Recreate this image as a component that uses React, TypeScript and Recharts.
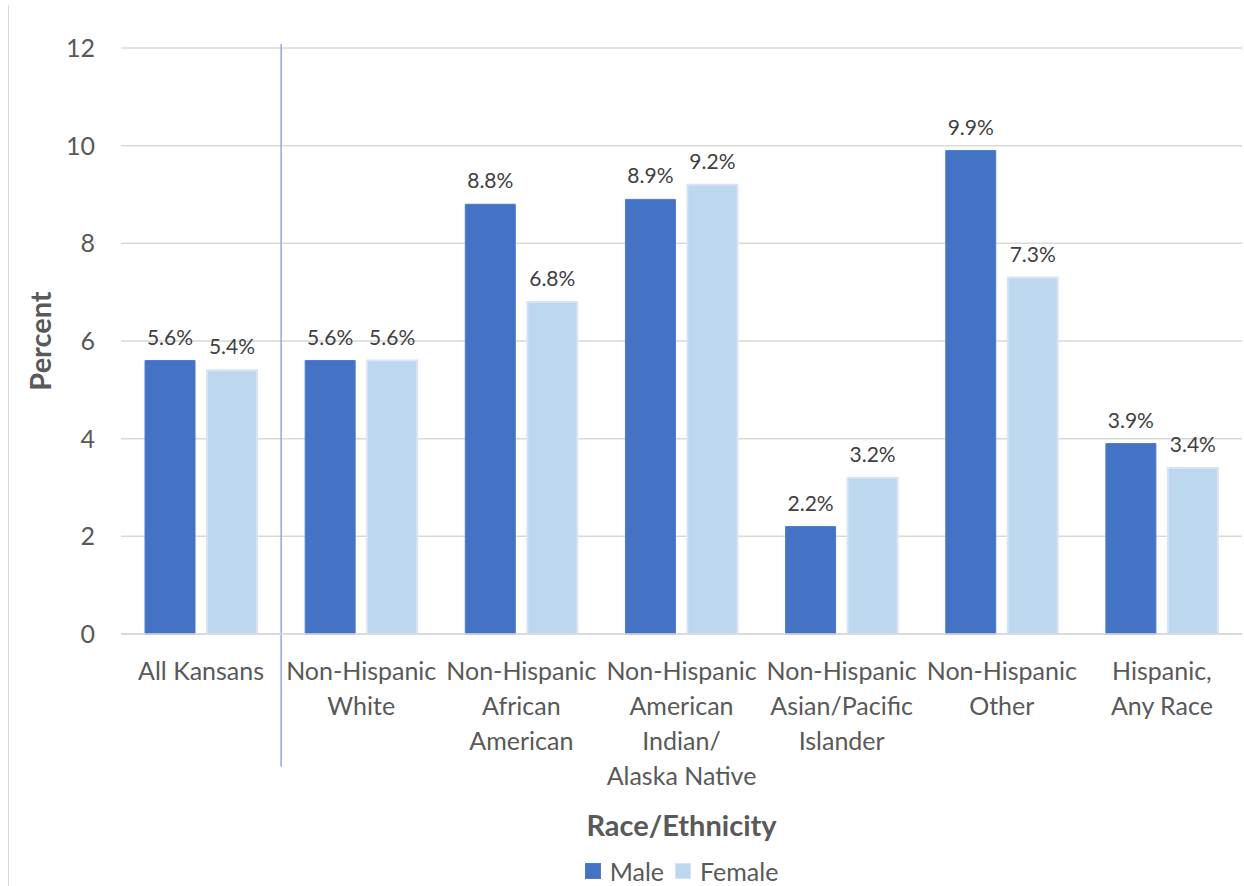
import React from 'react';
import { BarChart, Bar, XAxis, YAxis, CartesianGrid, LabelList, Legend, ReferenceLine } from 'recharts';

const categories = [
  'All Kansans',
  'Non-Hispanic White',
  'Non-Hispanic African American',
  'Non-Hispanic American Indian/ Alaska Native',
  'Non-Hispanic Asian/Pacific Islander',
  'Non-Hispanic Other',
  'Hispanic, Any Race',
];
const categoryLines = [
  ['All Kansans'],
  ['Non-Hispanic', 'White'],
  ['Non-Hispanic', 'African', 'American'],
  ['Non-Hispanic', 'American', 'Indian/', 'Alaska Native'],
  ['Non-Hispanic', 'Asian/Pacific', 'Islander'],
  ['Non-Hispanic', 'Other'],
  ['Hispanic,', 'Any Race'],
];
const maleValues = [5.6, 5.6, 8.8, 8.9, 2.2, 9.9, 3.9];
const femaleValues = [5.4, 5.6, 6.8, 9.2, 3.2, 7.3, 3.4];
const yTicks = [0, 2, 4, 6, 8, 10, 12];
const seriesNames = ['Male', 'Female'];
const seriesColors = ['#4472C4', '#BDD7EE'];
const seriesStrokes = ['#4f7bca', '#dae3f3'];
const separatorSpan = [-2.72, 12.08];

const FONT = 'Lato, "Open Sans", sans-serif';

const data = categories.map((c, i) => ({ category: c, male: maleValues[i], female: femaleValues[i] }));

const XTick = (props: any) => {
  const { x, y, payload } = props;
  const idx = categories.indexOf(payload.value);
  const lines = categoryLines[idx] || [payload.value];
  return (
    <g>
      {lines.map((l, i) => (
        <text key={i} x={x} y={y + 38 + i * 35} textAnchor="middle" fill="#595959" fontSize={25} fontFamily={FONT}>
          {l}
        </text>
      ))}
    </g>
  );
};

const YTitle = (p: any) => {
  const vb = p.viewBox || { x: 0, y: 48, width: 121, height: 586 };
  const cx = 39;
  const cy = vb.y + vb.height / 2;
  return (
    <text x={cx} y={cy} transform={`rotate(-90 ${cx} ${cy})`} textAnchor="middle" dominantBaseline="central"
      fill="#595959" fontSize={29} fontWeight={700} fontFamily={FONT}>
      Percent
    </text>
  );
};

const LegendContent = () => (
  <div style={{ display: 'flex', justifyContent: 'center', alignItems: 'center', height: 30, fontFamily: FONT, fontSize: 25, color: '#595959' }}>
    {seriesNames.map((n, i) => (
      <div key={n} style={{ display: 'flex', alignItems: 'center', marginRight: i === 0 ? 11 : 0 }}>
        <div style={{ width: 16, height: 16, background: seriesColors[i], boxSizing: 'border-box', border: `1px solid ${seriesStrokes[i]}`, marginRight: 9 }} />
        <span>{n}</span>
      </div>
    ))}
  </div>
);

export default function App() {
  return (
    <div style={{ position: 'absolute', left: 0, top: 0, width: 1244, height: 886, background: '#fff' }}>
      <div style={{ position: 'absolute', left: 8, top: 5, height: 881, borderLeft: '1px solid #d9d9d9' }} />
      <BarChart
        width={1244}
        height={886}
        data={data}
        margin={{ top: 48, right: 2, left: 0, bottom: 0 }}
        barCategoryGap="15%"
        barGap={12}
      >
        <CartesianGrid vertical={false} stroke="#d9d9d9" strokeWidth={1.5} />
        <XAxis
          dataKey="category"
          height={222}
          interval={0}
          tickLine={false}
          axisLine={{ stroke: '#d9d9d9', strokeWidth: 1.5 }}
          tick={<XTick />}
          label={{ value: 'Race/Ethnicity', position: 'insideBottom', offset: 20, fontSize: 29, fontWeight: 700, fill: '#595959', fontFamily: FONT }}
        />
        <YAxis
          width={121}
          domain={[0, 12]}
          ticks={yTicks}
          interval={0}
          axisLine={false}
          tickLine={false}
          tickMargin={20}
          tick={{ fill: '#595959', fontSize: 25, fontFamily: FONT }}
          label={{ content: <YTitle /> }}
        />
        <ReferenceLine
          segment={[{ x: categories[0], y: separatorSpan[0] }, { x: categories[0], y: separatorSpan[1] }]}
          position="end"
          ifOverflow="visible"
          stroke="#8eaadb"
          strokeWidth={1.5}
        />
        <Bar dataKey="male" name={seriesNames[0]} fill={seriesColors[0]} stroke={seriesStrokes[0]} strokeWidth={1} isAnimationActive={false}>
          <LabelList dataKey="male" position="top" offset={16} formatter={(v: any) => `${Number(v).toFixed(1)}%`} fill="#404040" fontSize={21} fontFamily={FONT} />
        </Bar>
        <Bar dataKey="female" name={seriesNames[1]} fill={seriesColors[1]} stroke={seriesStrokes[1]} strokeWidth={2} isAnimationActive={false}>
          <LabelList dataKey="female" position="top" offset={16} formatter={(v: any) => `${Number(v).toFixed(1)}%`} fill="#404040" fontSize={21} fontFamily={FONT} />
        </Bar>
        <Legend verticalAlign="bottom" height={30} wrapperStyle={{ left: 121, width: 1121 }} content={<LegendContent />} />
      </BarChart>
    </div>
  );
}
